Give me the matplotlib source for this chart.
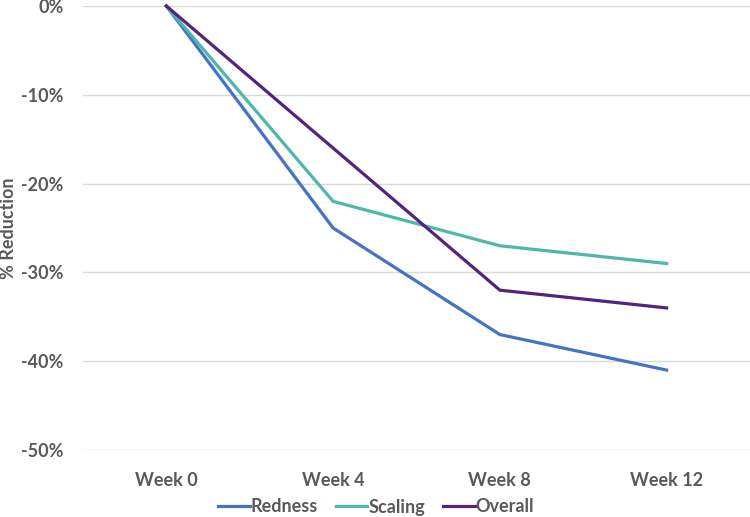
import matplotlib
matplotlib.use("Agg")
import matplotlib.pyplot as plt
from matplotlib.ticker import FuncFormatter

categories = ["Week 0", "Week 4", "Week 8", "Week 12"]
redness = [0, -25, -37, -41]
scaling = [0, -22, -27, -29]
overall = [0, -16, -32, -34]
yticks = [0, -10, -20, -30, -40, -50]

plt.rcParams['font.family'] = ['Lato', 'DejaVu Sans']
txt = '#595959'
fs = 13

fig = plt.figure(figsize=(7.5, 5.17), dpi=100)
ax = fig.add_axes([83/750, 1-450/517, 1-83/750, (450-6)/517])

x = list(range(len(categories)))
ax.plot(x, [v/100 for v in redness], color='#4472C4', lw=2.3, label='Redness', clip_on=False, zorder=3)
ax.plot(x, [v/100 for v in scaling], color='#4DB8A8', lw=2.3, label='Scaling', clip_on=False, zorder=3)
ax.plot(x, [v/100 for v in overall], color='#53237E', lw=2.3, label='Overall', clip_on=False, zorder=3)

ax.set_xlim(-0.5, len(categories)-0.5)
ax.set_ylim(-0.5, 0)
ax.set_yticks([t/100 for t in yticks])
ax.yaxis.set_major_formatter(FuncFormatter(lambda v, p: f"{round(v*100):d}%"))
ax.set_xticks(x)
ax.set_xticklabels(categories)
for s in ax.spines.values():
    s.set_visible(False)
ax.grid(axis='y', color='#D9D9D9', lw=1)
ax.set_axisbelow(True)
ax.tick_params(length=0, labelsize=fs, colors=txt)
ax.tick_params(axis='y', pad=14)
ax.tick_params(axis='x', pad=16)
for lbl in ax.get_xticklabels() + ax.get_yticklabels():
    lbl.set_fontweight('bold')
fig.text(9/750, 1-228/517, '% Reduction', rotation=90, ha='center', va='center',
         fontsize=fs, fontweight='bold', color=txt)

leg = fig.legend(loc='center', bbox_to_anchor=(376/750, 1-507/517), ncol=3, frameon=False,
                 handlelength=1.75, handletextpad=0.05, columnspacing=1.0,
                 prop={'size': fs, 'weight': 'bold'})
for t in leg.get_texts():
    t.set_color(txt)

fig.savefig('out.png', dpi=100)
